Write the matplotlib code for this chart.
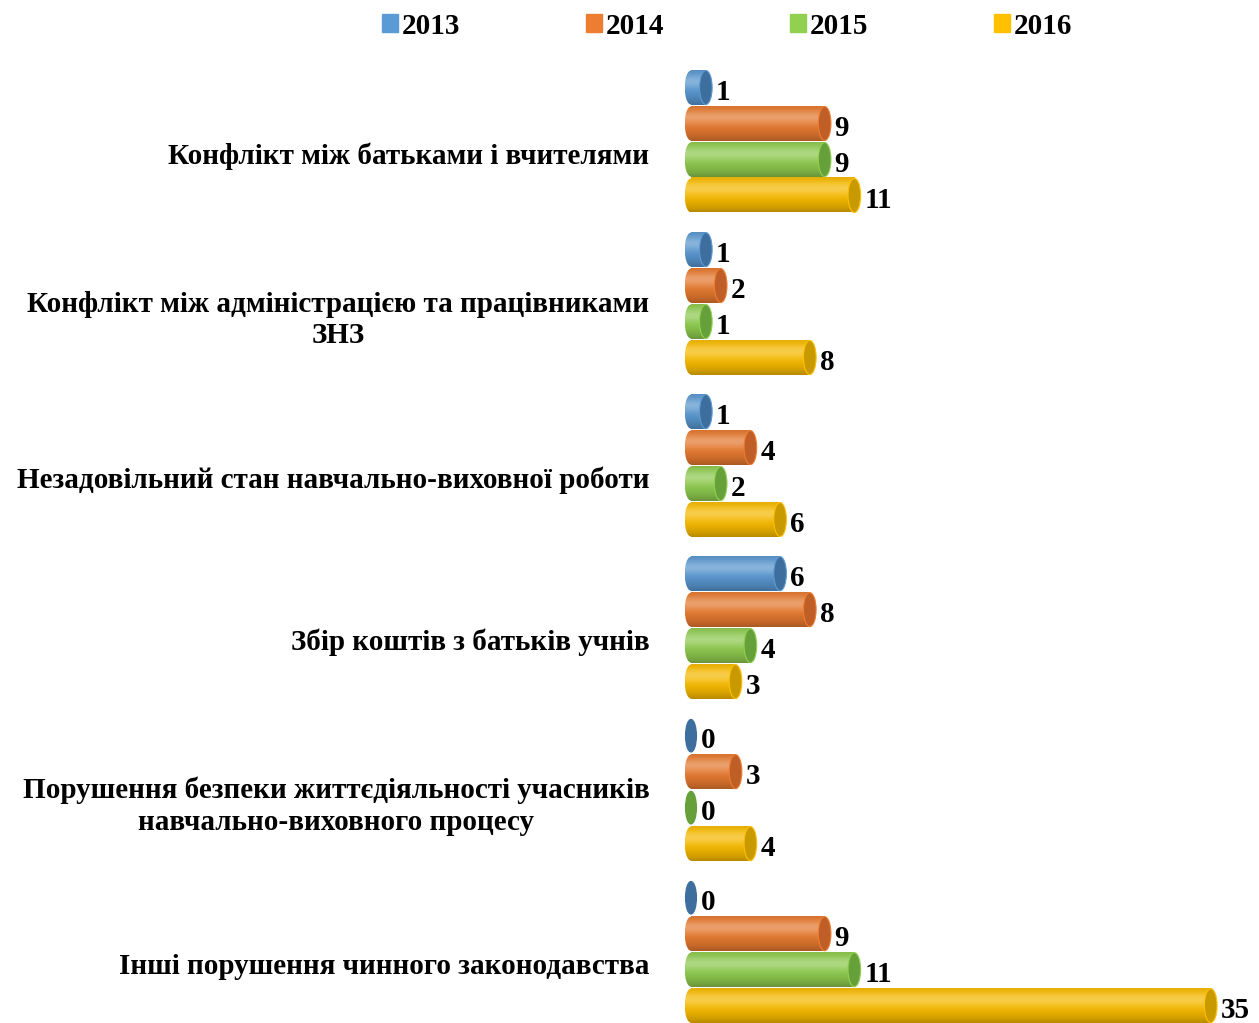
import numpy as np
import matplotlib.pyplot as plt
import matplotlib.transforms as mtransforms
from matplotlib.patches import Ellipse, Patch
from matplotlib.colors import to_rgb

plt.rcParams['font.family'] = ['Liberation Serif', 'DejaVu Serif']
plt.rcParams['font.weight'] = 'bold'

categories = ['Конфлікт між батьками і вчителями',
              'Конфлікт між адміністрацією та працівниками\nЗНЗ',
              'Незадовільний стан навчально-виховної роботи',
              'Збір коштів з батьків учнів',
              'Порушення безпеки життєдіяльності учасників\nнавчально-виховного процесу',
              'Інші порушення чинного законодавства']
years = ['2013', '2014', '2015', '2016']
v2013 = [1, 1, 1, 6, 0, 0]
v2014 = [9, 2, 4, 8, 3, 9]
v2015 = [9, 1, 2, 4, 0, 11]
v2016 = [11, 8, 6, 3, 4, 35]
series = [v2013, v2014, v2015, v2016]

colors = ['#5B9BD5', '#ED7D31', '#92D050', '#FFC000']
caps = ['#3E6E9E', '#BF5F27', '#66A03A', '#C99A00']


def shade(color, n=60):
    # vertical profile of a cylinder: highlight near the top, darker at the edges
    base = np.array(to_rgb(color))
    t = np.linspace(0, 1, n)[:, None]
    light = 0.30 * np.exp(-((t - 0.32) / 0.2) ** 2)
    dark = 0.28 * t ** 3 + 0.10 * (1 - t) ** 4
    rgb = base * (1 - dark) + (1 - base) * light * (1 - dark)
    rgb = np.clip(rgb, 0, 1)
    return rgb[:, None, :]


fig = plt.figure(figsize=(12.59, 10.23), dpi=100)
ax = fig.add_axes([680 / 1259, 0, (1259 - 680) / 1259, (1023 - 60) / 1023])

h = 0.21
pitch = 0.222
capw = 0.85
for j, vals in enumerate(series):
    for i, v in enumerate(vals):
        yc = i + (j - 1.5) * pitch
        if v > 0:
            grad = shade(colors[j])
            left = Ellipse((0, yc), capw, h, facecolor='none', edgecolor='none')
            ax.add_patch(left)
            im = ax.imshow(grad, extent=(-capw / 2, capw / 2, yc + h / 2, yc - h / 2),
                           aspect='auto', origin='upper', zorder=2)
            im.set_clip_path(left)
            ax.imshow(grad, extent=(0, v, yc + h / 2, yc - h / 2),
                      aspect='auto', origin='upper', zorder=3)
            ax.add_patch(Ellipse((v, yc), capw, h, facecolor=caps[j],
                                 edgecolor=colors[j], lw=0.8, zorder=4))
        else:
            ax.add_patch(Ellipse((0, yc), capw * 0.85, h * 0.95, color=caps[j], zorder=4))
        ax.text(v + 0.68, yc + 0.03, str(v), ha='left', va='center',
                fontsize=21, fontweight='bold', zorder=5)

ax.set_xlim(-0.74, 38.25)
ax.set_ylim(5.44, -0.503)
ax.set_xticks([])
ax.set_yticks(range(len(categories)))
ax.set_yticklabels(categories, fontsize=21, fontweight='bold', multialignment='center')
ax.tick_params(axis='y', length=0, pad=22)
offset = mtransforms.ScaledTranslation(0, -11.5 / 100, fig.dpi_scale_trans)
for lbl in ax.get_yticklabels():
    lbl.set_transform(lbl.get_transform() + offset)
for s in ax.spines.values():
    s.set_visible(False)

handles = [Patch(color=c) for c in colors]
fig.legend(handles, years, loc='center', bbox_to_anchor=(727 / 1259, 1 - 26 / 1023),
           ncol=4, frameon=False, prop={'size': 21, 'weight': 'bold'},
           handlelength=0.55, handleheight=0.55, handletextpad=0.15, columnspacing=4.29)

fig.savefig('out.png', dpi=100)
